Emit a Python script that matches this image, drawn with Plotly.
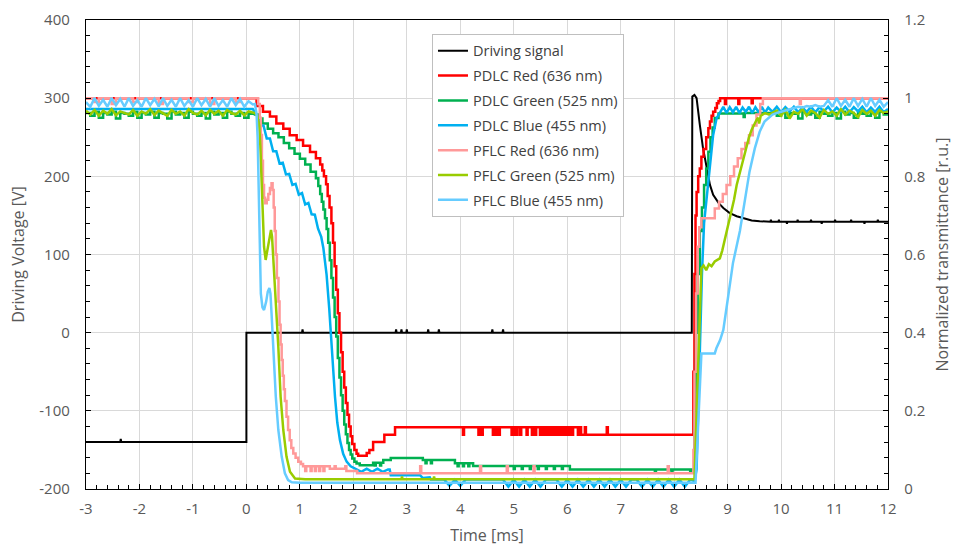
import numpy as np
import plotly.graph_objects as go

# ---------------- data ----------------
# common sampling grids for the noisy plateaus (ms)
pre_t = np.round(np.arange(-3.0, 0.13, 0.08), 2)     # 40 samples before switching
tail_t = np.round(np.arange(9.84, 12.01, 0.08), 2)   # 28 samples after recovery

x_tickvals = [-3, -2, -1, 0, 1, 2, 3, 4, 5, 6, 7, 8, 9, 10, 11, 12]
x_ticktext = ["-3", "-2", "-1", "0", "1", "2", "3", "4", "5", "6", "7", "8", "9", "10", "11", "12"]
v_tickvals = [-200, -100, 0, 100, 200, 300, 400]
v_ticktext = ["-200", "-100", "0", "100", "200", "300", "400"]
t_tickvals = [0, 0.2, 0.4, 0.6, 0.8, 1.0, 1.2]
t_ticktext = ["0", "0.2", "0.4", "0.6", "0.8", "1", "1.2"]

# Driving signal [V]
drive_t = [-3.0, -2.36, -2.35, -2.34, 0.0, 0.0, 1.04, 1.05, 1.06, 2.79, 2.8, 2.81,
           2.89, 2.9, 2.91, 2.99, 3.0, 3.01, 3.39, 3.4, 3.41, 3.59, 3.6, 3.61,
           4.59, 4.6, 4.61, 4.79, 4.8, 4.81, 8.33, 8.34, 8.38, 8.42, 8.48, 8.54,
           8.61, 8.67, 8.73, 8.83, 8.92, 9.04, 9.17, 9.29, 9.39, 9.45, 9.6,
           9.8, 9.81, 9.82, 9.95, 9.96, 9.97, 10.1, 10.11, 10.12, 10.3, 10.31, 10.32,
           10.55, 10.56, 10.57, 10.75, 10.76, 10.77, 11.0, 11.01, 11.02, 11.3, 11.31,
           11.32, 11.55, 11.56, 11.57, 11.8, 11.81, 11.82, 12.0]
drive_v = [-140, -140, -136, -140, -140, 0, 0, 4, 0, 0, 4, 0,
           0, 4, 0, 0, 4, 0, 0, 4, 0, 0, 4, 0,
           0, 4, 0, 0, 4, 0, 0, 302, 304, 300, 266, 236,
           211, 189, 176.5, 166, 159.5, 153, 149, 146.7, 144.6, 143.5, 142.5,
           142, 144.5, 142, 142, 144.5, 142, 142, 139.5, 142, 142, 144.5, 142,
           142, 144.5, 142, 142, 139.5, 142, 142, 144.5, 142, 142, 144.5,
           142, 142, 139.5, 142, 142, 144.5, 142, 142]

# PDLC Red (636 nm) - normalized transmittance
pdlc_red_t = [-3.0, 0.19, 0.31, 0.44, 0.56, 0.69, 0.81, 0.94, 1.06, 1.19, 1.30, 1.38,
              1.42, 1.45, 1.49, 1.52, 1.555, 1.59, 1.62, 1.65, 1.68, 1.71, 1.74, 1.77,
              1.80, 1.83, 1.86, 1.89, 1.92, 1.95, 1.98, 2.02, 2.06, 2.09, 2.25, 2.30,
              2.37, 2.58, 2.78,
              4.05, 4.07, 4.34, 4.36, 4.40, 4.42, 4.61, 4.63, 4.66, 4.68, 4.72, 4.74,
              4.96, 4.98, 5.01, 5.03, 5.05, 5.07, 5.12, 5.14, 5.24, 5.26, 5.34, 5.36,
              5.40, 5.42, 5.49, 5.51, 5.53, 5.55, 5.57, 5.59, 5.61, 5.63, 5.65, 5.67,
              5.69, 5.71, 5.73, 5.75, 5.77, 5.79, 5.81, 5.83, 5.85, 5.87, 5.89, 5.91,
              5.93, 5.95, 5.97, 5.99, 6.01, 6.03, 6.05, 6.07, 6.09, 6.11, 6.2,
              6.24, 6.26, 6.33, 6.35, 6.74, 6.76,
              8.36, 8.38, 8.40, 8.42, 8.45, 8.48, 8.51, 8.55, 8.60, 8.64, 8.67, 8.70,
              8.73, 8.77, 8.80, 8.83, 8.86, 8.95, 8.97, 9.2, 9.22, 9.45, 9.47, 12.0]
pdlc_red_T = [1.0, 0.98, 0.965, 0.953, 0.935, 0.922, 0.905, 0.893, 0.878, 0.862, 0.846, 0.83,
              0.815, 0.8, 0.78, 0.75, 0.72, 0.68, 0.63, 0.57, 0.51, 0.45, 0.4, 0.35,
              0.3, 0.26, 0.22, 0.19, 0.16, 0.135, 0.115, 0.1, 0.09, 0.085, 0.092, 0.1,
              0.12, 0.139, 0.158,
              0.139, 0.158, 0.139, 0.158, 0.139, 0.158, 0.139, 0.158, 0.139, 0.158, 0.139, 0.158,
              0.139, 0.158, 0.139, 0.158, 0.139, 0.158, 0.139, 0.158, 0.139, 0.158, 0.139, 0.158,
              0.139, 0.158, 0.139, 0.158, 0.139, 0.158, 0.139, 0.158, 0.139, 0.158, 0.139, 0.158,
              0.139, 0.158, 0.139, 0.158, 0.139, 0.158, 0.139, 0.158, 0.139, 0.158, 0.139, 0.158,
              0.139, 0.158, 0.139, 0.158, 0.139, 0.158, 0.139, 0.158, 0.139, 0.158, 0.139,
              0.158, 0.139, 0.158, 0.139, 0.158, 0.139,
              0.3, 0.55, 0.7, 0.76, 0.8, 0.82, 0.85, 0.87, 0.9, 0.923, 0.94, 0.955,
              0.965, 0.975, 0.987, 0.993, 1.0, 0.985, 1.0, 0.985, 1.0, 0.987, 1.0, 1.0]

# PDLC Green (525 nm)
pdlc_green_pre = [0.962, 0.955, 0.965, 0.95, 0.962, 0.958, 0.965, 0.948, 0.962, 0.96,
                  0.955, 0.965, 0.95, 0.962, 0.958, 0.965, 0.95, 0.962, 0.96, 0.948,
                  0.965, 0.958, 0.962, 0.95, 0.965, 0.96, 0.955, 0.962, 0.948, 0.965,
                  0.958, 0.962, 0.95, 0.965, 0.96, 0.955, 0.962, 0.95, 0.96, 0.962]
pdlc_green_mid_t = [0.16, 0.22, 0.3, 0.4, 0.5, 0.6, 0.7, 0.8, 0.9, 1.0, 1.1, 1.2,
                    1.3, 1.345, 1.38, 1.41, 1.44, 1.47, 1.5, 1.53, 1.56, 1.59, 1.62, 1.65,
                    1.68, 1.71, 1.74, 1.77, 1.8, 1.83, 1.86, 1.89, 1.92, 1.95, 1.98, 2.02,
                    2.06, 2.12, 2.37, 2.40, 2.42, 2.5, 2.52, 2.56, 2.7, 3.3, 3.35, 3.37,
                    3.45, 3.47, 3.9, 3.95, 3.97, 4.05, 4.07, 4.15, 4.17, 4.24, 5.0, 5.02,
                    5.15, 5.17, 5.3, 5.32, 5.45, 5.47, 5.6, 5.62, 5.75, 5.77, 5.9, 5.92,
                    6.05, 7.64, 7.66, 7.95, 7.97, 8.3, 8.32,
                    8.38, 8.41, 8.44, 8.48, 8.52, 8.56, 8.6, 8.64, 8.68, 8.72, 8.76, 8.83,
                    9.3, 9.32]
pdlc_green_mid_T = [0.958, 0.948, 0.935, 0.922, 0.91, 0.9, 0.885, 0.872, 0.858, 0.845, 0.83, 0.812,
                    0.795, 0.775, 0.755, 0.735, 0.715, 0.693, 0.665, 0.63, 0.585, 0.54, 0.49, 0.44,
                    0.39, 0.335, 0.285, 0.24, 0.2, 0.165, 0.14, 0.118, 0.1, 0.088, 0.078, 0.07,
                    0.065, 0.061, 0.067, 0.06, 0.067, 0.06, 0.067, 0.074, 0.079, 0.074, 0.066, 0.074,
                    0.066, 0.074, 0.066, 0.058, 0.066, 0.058, 0.066, 0.058, 0.066, 0.059, 0.051, 0.059,
                    0.051, 0.059, 0.051, 0.059, 0.051, 0.059, 0.051, 0.059, 0.051, 0.059, 0.051, 0.059,
                    0.05, 0.042, 0.05, 0.042, 0.05, 0.042, 0.05,
                    0.2, 0.4, 0.55, 0.66, 0.72, 0.778, 0.82, 0.863, 0.9, 0.925, 0.949, 0.961,
                    0.952, 0.962]
pdlc_green_tail = [0.962, 0.955, 0.965, 0.95, 0.962, 0.96, 0.948, 0.965, 0.958, 0.962,
                   0.95, 0.965, 0.96, 0.955, 0.962, 0.948, 0.965, 0.958, 0.962, 0.95,
                   0.965, 0.96, 0.955, 0.962, 0.95, 0.965, 0.958, 0.962]

# PDLC Blue (455 nm)
pdlc_blue_t = [-3.0, 0.12, 0.14, 0.2, 0.26, 0.32, 0.38, 0.44, 0.5, 0.56, 0.62, 0.68,
               0.74, 0.8, 0.86, 0.92, 0.98, 1.04, 1.1, 1.16, 1.22, 1.28, 1.34, 1.4,
               1.44, 1.5, 1.55, 1.576, 1.61, 1.657, 1.7, 1.75, 1.81, 1.875, 1.95, 2.0,
               2.05, 2.15, 2.25, 2.35, 2.45, 2.55, 2.65, 2.68, 2.7, 3.25, 3.3, 3.43,
               3.45, 3.5, 3.6, 3.7, 3.8, 3.9, 4.0, 4.1, 4.2, 4.3, 4.4, 4.5,
               4.6, 4.7, 4.8, 4.9, 5.0, 5.1, 5.2, 5.3, 5.4, 5.5, 5.6, 5.7,
               5.8, 5.9, 6.0, 6.1, 6.2, 6.3, 6.4, 6.5, 6.6, 6.7, 6.8, 6.9,
               7.0, 7.1, 7.2, 7.3, 7.4, 7.5, 7.6, 7.7, 7.8, 7.9, 8.0, 8.1,
               8.2, 8.3, 8.38, 8.42, 8.47, 8.52, 8.56, 8.60, 8.67, 8.73, 8.795, 8.86,
               8.92, 8.98, 9.04, 9.1, 9.16, 9.22, 9.28, 9.34, 9.4, 9.46, 9.52, 9.58,
               9.64, 9.7, 9.76]
pdlc_blue_T = [0.972, 0.972, 0.968, 0.955, 0.93, 0.93, 0.897, 0.897, 0.864, 0.864, 0.833, 0.835,
               0.805, 0.806, 0.778, 0.781, 0.753, 0.757, 0.728, 0.732, 0.703, 0.702, 0.666, 0.645,
               0.616, 0.548, 0.46, 0.4, 0.33, 0.236, 0.17, 0.125, 0.09, 0.07, 0.058, 0.054,
               0.05, 0.044, 0.052, 0.044, 0.052, 0.044, 0.05, 0.05, 0.035, 0.035, 0.028, 0.03,
               0.024, 0.024, 0.024, 0.024, 0.008, 0.024, 0.008, 0.024, 0.024, 0.024, 0.024, 0.024,
               0.024, 0.024, 0.024, 0.006, 0.024, 0.006, 0.024, 0.006, 0.024, 0.006, 0.024, 0.024,
               0.024, 0.006, 0.024, 0.006, 0.024, 0.006, 0.024, 0.006, 0.024, 0.006, 0.024, 0.006,
               0.024, 0.006, 0.024, 0.024, 0.006, 0.024, 0.006, 0.024, 0.006, 0.024, 0.006, 0.024,
               0.006, 0.024, 0.02, 0.05, 0.3, 0.55, 0.68, 0.735, 0.82, 0.906, 0.949, 0.965,
               0.978, 0.962, 0.977, 0.964, 0.978, 0.962, 0.976, 0.965, 0.978, 0.962, 0.977, 0.964,
               0.978, 0.963, 0.976]
pdlc_blue_tail = [0.965, 0.978, 0.964, 0.977, 0.966, 0.978, 0.964, 0.976, 0.965, 0.978,
                  0.964, 0.977, 0.966, 0.978, 0.964, 0.976, 0.965, 0.978, 0.964, 0.977,
                  0.966, 0.978, 0.964, 0.976, 0.965, 0.978, 0.964, 0.972]

# PFLC Red (636 nm)
pflc_red_pre = [1.0, 1.0, 0.99, 1.0, 1.0, 1.0, 0.985, 1.0, 1.0, 1.0,
                1.0, 0.99, 1.0, 1.0, 1.0, 1.0, 1.0, 0.985, 1.0, 1.0,
                1.0, 1.0, 1.0, 1.0, 0.99, 1.0, 1.0, 1.0, 1.0, 0.985,
                1.0, 1.0, 1.0, 1.0, 1.0, 0.99, 1.0, 1.0, 1.0, 1.0]
pflc_red_t = [0.22, 0.25, 0.27, 0.29, 0.31, 0.33, 0.35, 0.38, 0.41, 0.44, 0.47, 0.49,
              0.51, 0.53, 0.55, 0.57, 0.6, 0.62, 0.64, 0.66, 0.68, 0.70, 0.72, 0.75,
              0.78, 0.81, 0.84, 0.877, 0.92, 0.97, 1.02, 1.06, 1.1, 1.12, 1.2, 1.22,
              1.28, 1.3, 1.36, 1.38, 1.44, 1.46, 1.56, 1.65, 1.67, 1.85, 1.87, 2.07,
              3.25, 3.27, 4.37, 4.39, 4.87, 4.89, 5.37, 5.39, 7.88, 7.9,
              8.36, 8.38, 8.41, 8.44, 8.47, 8.51, 8.76, 8.84, 8.91, 8.98, 9.05, 9.12,
              9.19, 9.26, 9.33, 9.40, 9.47, 9.54, 9.61, 9.66, 10.35, 10.37, 12.0]
pflc_red_T = [0.985, 0.95, 0.906, 0.84, 0.778, 0.745, 0.731, 0.74, 0.755, 0.77, 0.782, 0.765,
              0.72, 0.66, 0.6, 0.54, 0.48, 0.42, 0.37, 0.33, 0.29, 0.255, 0.225, 0.185,
              0.151, 0.125, 0.105, 0.091, 0.08, 0.07, 0.064, 0.058, 0.046, 0.058, 0.046, 0.058,
              0.046, 0.058, 0.046, 0.058, 0.046, 0.058, 0.052, 0.058, 0.052, 0.058, 0.046, 0.04,
              0.058, 0.04, 0.058, 0.04, 0.058, 0.04, 0.058, 0.04, 0.058, 0.04,
              0.1, 0.3, 0.5, 0.62, 0.67, 0.693, 0.718, 0.735, 0.755, 0.778, 0.8, 0.825,
              0.846, 0.87, 0.885, 0.905, 0.93, 0.958, 0.985, 1.0, 0.985, 1.0, 1.0]

# PFLC Green (525 nm)
pflc_green_pre = [0.968, 0.958, 0.97, 0.955, 0.968, 0.96, 0.972, 0.956, 0.966, 0.962,
                  0.958, 0.97, 0.955, 0.966, 0.96, 0.972, 0.957, 0.968, 0.962, 0.955,
                  0.97, 0.96, 0.966, 0.955, 0.972, 0.962, 0.958, 0.968, 0.956, 0.97,
                  0.96, 0.968, 0.955, 0.97, 0.962, 0.958, 0.968, 0.956, 0.966, 0.964]
pflc_green_t = [0.16, 0.2, 0.24, 0.26, 0.28, 0.30, 0.33, 0.36, 0.39, 0.43, 0.46, 0.48,
                0.50, 0.535, 0.566, 0.597, 0.64, 0.69, 0.75, 0.815, 0.91, 1.1, 2.9, 2.91,
                2.92, 3.5, 3.51, 3.52, 8.38, 8.42, 8.47, 8.51, 8.55, 8.6, 8.65, 8.7,
                8.76, 8.8, 8.855, 8.9, 8.95, 9.0, 9.03, 9.076, 9.12, 9.17, 9.22, 9.26,
                9.31, 9.36, 9.4, 9.45, 9.5, 9.54, 9.57, 9.59, 9.62, 9.7, 9.78]
pflc_green_T = [0.962, 0.955, 0.93, 0.88, 0.8, 0.7, 0.62, 0.586, 0.61, 0.65, 0.663, 0.645,
                0.6, 0.52, 0.45, 0.364, 0.236, 0.151, 0.083, 0.044, 0.027, 0.025, 0.025, 0.032,
                0.025, 0.025, 0.032, 0.025, 0.025, 0.2, 0.45, 0.565, 0.572, 0.56, 0.575, 0.57,
                0.582, 0.585, 0.59, 0.61, 0.64, 0.668, 0.68, 0.71, 0.74, 0.778, 0.805, 0.829,
                0.855, 0.88, 0.9, 0.919, 0.935, 0.944, 0.95, 0.935, 0.955, 0.962, 0.958]
pflc_green_tail = [0.962, 0.968, 0.955, 0.97, 0.948, 0.965, 0.96, 0.972, 0.955, 0.968,
                   0.962, 0.95, 0.97, 0.96, 0.966, 0.955, 0.972, 0.958, 0.968, 0.962,
                   0.952, 0.97, 0.96, 0.968, 0.955, 0.97, 0.962, 0.966]

# PFLC Blue (455 nm)
pflc_blue_pre = [0.99, 0.978, 1.0, 0.98, 0.996, 0.978, 1.0, 0.982, 0.998, 0.978,
                 1.0, 0.98, 0.995, 0.978, 1.0, 0.982, 0.998, 0.979, 1.0, 0.98,
                 0.996, 0.978, 1.0, 0.98, 0.995, 0.978, 1.0, 0.982, 0.998, 0.978,
                 1.0, 0.98, 0.995, 0.978, 1.0, 0.982, 0.998, 0.978, 0.992, 0.984]
pflc_blue_t = [0.16, 0.19, 0.21, 0.23, 0.25, 0.27, 0.30, 0.33, 0.37, 0.40, 0.43, 0.45,
               0.47, 0.5, 0.55, 0.597, 0.66, 0.72, 0.78, 0.85, 1.0, 8.4, 8.43, 8.47,
               8.51, 8.76, 8.79, 8.86, 8.92, 9.01, 9.1, 9.23, 9.32, 9.41, 9.51, 9.6,
               9.69, 9.79]
pflc_blue_T = [0.985, 0.96, 0.9, 0.75, 0.6, 0.5, 0.465, 0.458, 0.48, 0.505, 0.514, 0.5,
               0.45, 0.364, 0.236, 0.151, 0.083, 0.04, 0.023, 0.017, 0.016, 0.016, 0.1, 0.25,
               0.347, 0.347, 0.36, 0.381, 0.407, 0.492, 0.578, 0.66, 0.735, 0.812, 0.872, 0.914,
               0.94, 0.953]
pflc_blue_tail = [0.958, 0.962, 0.965, 0.968, 0.972, 0.975, 0.978, 0.976, 0.98, 0.978,
                  0.982, 0.978, 0.98, 0.995, 0.978, 1.0, 0.98, 0.996, 0.978, 1.0,
                  0.98, 0.998, 0.978, 1.0, 0.98, 0.996, 0.978, 0.99]

# ---------------- assemble series ----------------
def cat(*parts):
    return np.concatenate([np.asarray(p, dtype=float) for p in parts])

series = [
    ("PDLC Red (636 nm)", "#FF0000", "hv",
     np.asarray(pdlc_red_t, float), np.asarray(pdlc_red_T, float)),
    ("PDLC Green (525 nm)", "#00B050", "hv",
     cat(pre_t, pdlc_green_mid_t, tail_t), cat(pdlc_green_pre, pdlc_green_mid_T, pdlc_green_tail)),
    ("PDLC Blue (455 nm)", "#00B0F0", "linear",
     cat(pdlc_blue_t, tail_t), cat(pdlc_blue_T, pdlc_blue_tail)),
    ("PFLC Red (636 nm)", "#FF9999", "hv",
     cat(pre_t, pflc_red_t), cat(pflc_red_pre, pflc_red_T)),
    ("PFLC Green (525 nm)", "#99CC00", "linear",
     cat(pre_t, pflc_green_t, tail_t), cat(pflc_green_pre, pflc_green_T, pflc_green_tail)),
    ("PFLC Blue (455 nm)", "#66CCFF", "linear",
     cat(pre_t, pflc_blue_t, tail_t), cat(pflc_blue_pre, pflc_blue_T, pflc_blue_tail)),
]

fig = go.Figure()
for rank, (name, color, shape, t, T) in enumerate(series, start=2):
    fig.add_trace(go.Scatter(
        x=t, y=T, name=name, mode="lines", yaxis="y2",
        line=dict(color=color, width=2.5, shape=shape),
        legendrank=rank, legendgroup=name,
    ))

# driving voltage drawn last so it sits on top
fig.add_trace(go.Scatter(
    x=drive_t, y=drive_v, name="Driving signal", mode="lines", yaxis="y",
    line=dict(color="#000000", width=2), legendrank=1, legendgroup="drive",
))

tick_font = dict(family="Open Sans", size=15, color="#595959")
title_font = dict(family="Open Sans", size=16, color="#595959")
grid = "#D9D9D9"

fig.update_layout(
    width=955, height=546,
    margin=dict(l=86, r=67, t=20, b=57, autoexpand=False),
    paper_bgcolor="white", plot_bgcolor="white",
    font=dict(family="Open Sans", color="#595959"),
    showlegend=True,
    legend=dict(
        x=0.4314, y=0.9705, xanchor="left", yanchor="top",
        bgcolor="white", bordercolor="#BFBFBF", borderwidth=1,
        font=dict(family="Open Sans", size=14.5, color="#404040"),
        tracegroupgap=3, traceorder="grouped",
    ),
    xaxis=dict(
        range=[-3, 12], tickmode="array", tickvals=x_tickvals, ticktext=x_ticktext,
        showgrid=True, gridcolor=grid, gridwidth=1, zeroline=False,
        showline=True, linecolor="black", linewidth=1.3, mirror=True,
        ticks="inside", ticklen=5, tickcolor="black", automargin=False,
        minor=dict(tickmode="linear", tick0=-3, dtick=0.2, ticks="inside", ticklen=4,
                   tickcolor="black", showgrid=False),
        tickfont=tick_font, ticklabelstandoff=6,
        title=dict(text="Time [ms]", font=title_font, standoff=14),
    ),
    yaxis=dict(
        range=[-200, 400], tickmode="array", tickvals=v_tickvals, ticktext=v_ticktext,
        showgrid=True, gridcolor=grid, gridwidth=1, zeroline=False,
        showline=True, linecolor="black", linewidth=1.3, mirror=True,
        ticks="inside", ticklen=5, tickcolor="black", automargin=False,
        minor=dict(tickmode="linear", tick0=-200, dtick=20, ticks="inside", ticklen=4,
                   tickcolor="black", showgrid=False),
        tickfont=tick_font, ticklabelstandoff=12,
        title=dict(text="Driving Voltage [V]", font=title_font, standoff=10),
    ),
    yaxis2=dict(
        range=[0, 1.2], overlaying="y", side="right",
        tickmode="array", tickvals=t_tickvals, ticktext=t_ticktext,
        showgrid=False, zeroline=False,
        showline=True, linecolor="black", linewidth=1.3,
        ticks="inside", ticklen=5, tickcolor="black", automargin=False,
        minor=dict(tickmode="linear", tick0=0, dtick=0.04, ticks="inside", ticklen=4,
                   tickcolor="black", showgrid=False),
        tickfont=tick_font, ticklabelstandoff=12,
        title=dict(text="Normalized transmittance [r.u.]", font=title_font, standoff=12),
    ),
)

fig.write_html("out.html")
